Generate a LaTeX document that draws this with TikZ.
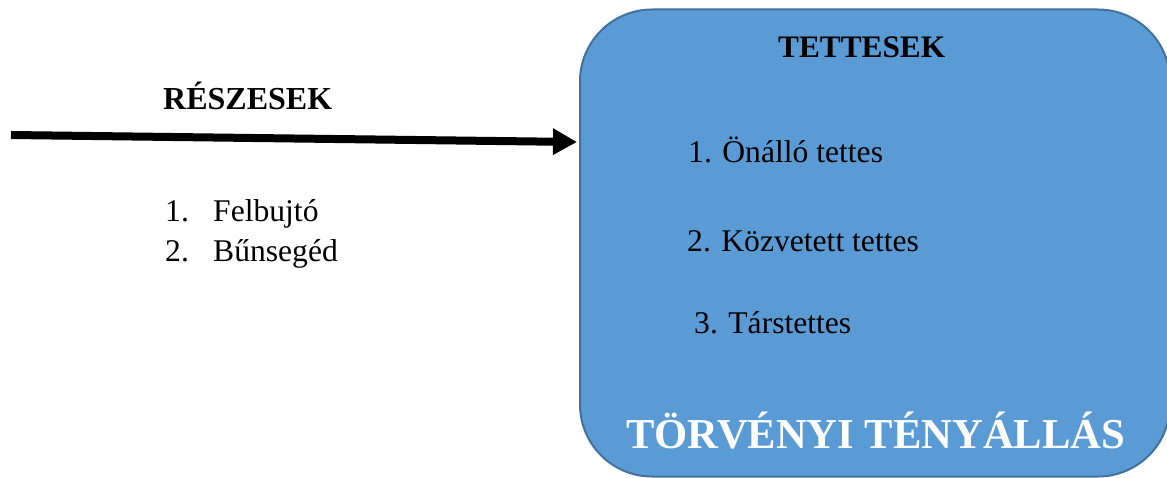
\documentclass[tikz,border=0pt]{standalone}
\usepackage{fontspec}
\setmainfont{Liberation Serif}
\usetikzlibrary{arrows.meta}
\definecolor{boxfill}{HTML}{5B9BD5}
\definecolor{boxline}{HTML}{41719C}
\begin{document}
\begin{tikzpicture}[x=1pt,y=1pt,
  txt/.style={anchor=base west,inner sep=0pt,font=\fontsize{31.6}{36}\selectfont},
  hdr/.style={anchor=base west,inner sep=0pt,font=\fontsize{31.3}{36}\selectfont\bfseries},
  bigw/.style={anchor=base west,inner sep=0pt,text=white,font=\fontsize{42.6}{48}\selectfont\bfseries},
  panel/.style={draw=boxline,fill=boxfill,line width=2pt,rounded corners=72pt,minimum width=590pt,minimum height=467pt,inner sep=0pt},
  bigarrow/.style={line width=8pt,-{Triangle[length=24pt,width=25pt]}}]
\useasboundingbox (0,0) rectangle (1167,477);
\node[panel] (box) at (580+295,467.5-233.5) {};
\coordinate (start) at (11,342);
\coordinate (tip) at (577,335);
\draw[bigarrow] (start) -- (tip);
\node[hdr,font=\fontsize{32}{36}\selectfont\bfseries] (resz) at (163,367) {RÉSZESEK};
\node[txt] (l1n) at (165,255) {1.};
\node[txt] (l1) at (213,255) {Felbujtó};
\node[txt] (l2n) at (165,215) {2.};
\node[txt] (l2) at (213,215) {Bűnsegéd};
\node[hdr] (tett) at (778,419) {TETTESEK};
\node[txt] (t1) at (688,314) {1. Önálló tettes};
\node[txt] (t2) at (687,225) {2. Közvetett tettes};
\node[txt] (t3) at (694,143) {3. Társtettes};
\node[bigw] (torv) at (626,29) {TÖRVÉNYI TÉNYÁLLÁS};
\end{tikzpicture}
\end{document}
